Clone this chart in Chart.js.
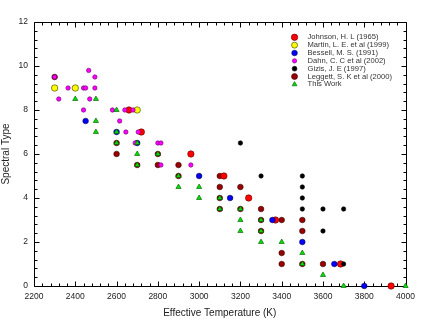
<!DOCTYPE html>
<html>
<head>
<meta charset="utf-8">
<script src="https://cdn.jsdelivr.net/npm/chart.js@4.4.1/dist/chart.umd.min.js"></script>
<style>
  html, body { margin: 0; padding: 0; background: #fff; }
  #wrap { width: 421px; height: 319px; }
</style>
</head>
<body>
<div id="wrap"><canvas id="c" width="421" height="319"></canvas></div>
<script>
// ---- Data (Teff [K], spectral type) ----
const johnson = [[2660,8],[2720,7],[2960,6],[3120,5],[3240,4],[3370,3],[3685,1],[3930,0]];
const martin  = [[2300,9],[2400,9],[2700,8]];
const bessell = [[2450,7.5],[2600,7],[2700,6.5],[3000,5],[3150,4],[3355,3],[3500,2],[3655,1],[3800,0]];
const dahn    = [[2300,9.5],[2465,9.8],[2495,9.5],[2365,9],[2440,9],[2450,9],[2495,9],[2320,8.5],[2470,8.5],
                 [2440,8],[2580,8],[2640,8],[2680,8],[2615,7.5],[2645,7],[2705,7],[2690,6.5],[2800,6.5],[2815,6.5],
                 [2815,5.5],[2960,5.5]];
const gizis   = [[3200,6.5],[3300,5],[3500,5],[3500,4.5],[3500,4],[3500,3.5],[3600,3.5],[3700,3.5],[3600,2.5],[3700,1]];
const leggett = [[2300,9.5],[2600,6.5],[2600,6],[2800,6],[2700,5.5],[2800,5.5],[2900,5.5],[2900,5],[3100,5],[3100,4.5],
                 [3200,4.5],[3100,4],[3100,3.5],[3200,3.5],[3300,3.5],[3300,3],[3400,3],[3500,3],[3300,2.5],[3500,2.5],
                 [3400,1.5],[3400,1],[3500,1],[3600,1]];
const thisWork = [[2400,8.5],[2500,8.5],[2600,8],[2500,7.5],[2500,7],[2600,7],[2700,6.5],[2600,6.5],[2700,6],[2800,6],
                  [2700,5.5],[2900,5],[2900,4.5],[3000,4.5],[3000,4],[3100,4],[3100,3.5],[3200,3.5],[3200,3],[3300,3],
                  [3200,2.5],[3300,2.5],[3300,2],[3400,2],[3500,1.5],[3500,1],[3600,0.5],[3700,0],[4000,0]];

const xTickLabels = [2200,2400,2600,2800,3000,3200,3400,3600,3800,4000];
const yTickLabels = [0,2,4,6,8,10,12];

const toPts = a => a.map(p => ({x: p[0], y: p[1]}));

const series = [
  {label:'Johnson, H. L (1965)',        data: johnson,  bg:'#ff0000', bc:'#550000', r:3.2, style:'circle',   order:3, lr:3.2},
  {label:'Martin, L. E. et al (1999)',  data: martin,   bg:'#ffff00', bc:'#333300', r:3.2, style:'circle',   order:5, lr:3.0},
  {label:'Bessell, M. S. (1991)',       data: bessell,  bg:'#0000ff', bc:'#000044', r:2.8, style:'circle',   order:2, lr:2.8},
  {label:'Dahn, C. C et al (2002)',     data: dahn,     bg:'#ff00ff', bc:'#660066', r:2.2, style:'circle',   order:1, lr:2.2},
  {label:'Gizis, J. E (1997)',          data: gizis,    bg:'#000000', bc:'#000000', r:2.2, style:'circle',   order:2, lr:2.4},
  {label:'Leggett, S. K et al (2000)',  data: leggett,  bg:'#990000', bc:'#330000', r:2.8, style:'circle',   order:6, lr:3.0},
  {label:'This Work',                   data: thisWork, bg:'#00e000', bc:'#005500', r:3.0, style:'triangle', order:0, lr:2.8}
];

const frameTicks = {
  id: 'frameTicks',
  afterDraw(chart) {
    const {ctx, chartArea: a, scales} = chart;
    const xs = scales.x, ys = scales.y;
    const L0 = Math.round(a.left) + 0.5, R0 = Math.round(a.right) + 0.5;
    const T0 = Math.round(a.top) + 0.5, B0 = Math.round(a.bottom) + 0.5;
    ctx.save();
    ctx.globalCompositeOperation = 'destination-over';
    ctx.strokeStyle = '#000';
    ctx.lineWidth = 1;
    ctx.beginPath();
    ctx.rect(L0, T0, R0 - L0, B0 - T0);
    const xv = [], yv = [];
    for (let v = xs.min; v <= xs.max + 1e-6; v += 40) xv.push(v);
    for (let k = 0; k <= 30; k++) yv.push(k * 0.4);
    xv.forEach(v => {
      const px = Math.round(xs.getPixelForValue(v)) + 0.5;
      const major = xTickLabels.includes(Math.round(v));
      const L = major ? 5 : 3;
      ctx.moveTo(px, B0); ctx.lineTo(px, B0 - L);
      ctx.moveTo(px, T0); ctx.lineTo(px, T0 + L);
    });
    yv.forEach(v => {
      const py = Math.round(ys.getPixelForValue(v)) + 0.5;
      const major = yTickLabels.some(t => Math.abs(t - v) < 1e-6);
      const L = major ? 5 : 3;
      ctx.moveTo(L0, py); ctx.lineTo(L0 + L, py);
      ctx.moveTo(R0, py); ctx.lineTo(R0 - L, py);
    });
    ctx.stroke();
    ctx.restore();
  }
};

const legendBox = {
  id: 'legendBox',
  afterDraw(chart) {
    const {ctx, chartArea: a} = chart;
    const mx = a.right - 111, tx = a.right - 98;
    let y = a.top + 15.3;
    ctx.save();
    ctx.font = '7.6px "Liberation Sans", Arial, sans-serif';
    ctx.textBaseline = 'middle';
    series.forEach(s => {
      ctx.beginPath();
      if (s.style === 'triangle') {
        const r = s.lr;
        ctx.moveTo(mx, y - r);
        ctx.lineTo(mx + r * 0.866, y + r * 0.5);
        ctx.lineTo(mx - r * 0.866, y + r * 0.5);
        ctx.closePath();
      } else {
        ctx.arc(mx, y, s.lr, 0, Math.PI * 2);
      }
      ctx.fillStyle = s.bg; ctx.fill();
      ctx.strokeStyle = s.bc; ctx.lineWidth = 0.6; ctx.stroke();
      ctx.fillStyle = '#333';
      ctx.fillText(s.label, tx, y);
      y += 7.85;
    });
    ctx.restore();
  }
};

new Chart(document.getElementById('c'), {
  type: 'scatter',
  data: {
    datasets: series.map(s => ({
      label: s.label,
      data: toPts(s.data),
      backgroundColor: s.bg,
      borderColor: s.bc,
      borderWidth: 0.6,
      pointRadius: s.r,
      pointHoverRadius: s.r,
      pointStyle: s.style,
      order: s.order,
      clip: false
    }))
  },
  options: {
    responsive: false,
    animation: false,
    devicePixelRatio: 1,
    layout: { padding: { top: 22, right: 13, left: 0, bottom: 0 } },
    plugins: { legend: { display: false }, tooltip: { enabled: false } },
    scales: {
      x: {
        type: 'linear', min: 2200, max: 4000,
        afterFit: s => { s.height = 33; },
        border: { display: false },
        grid: { display: false, drawTicks: false },
        ticks: {
          stepSize: 40, autoSkip: false, maxRotation: 0, padding: 6,
          color: '#222', font: { family: '"Liberation Sans", Arial, sans-serif', size: 8.5 },
          callback: v => xTickLabels.includes(Math.round(v)) ? String(Math.round(v)) : ''
        },
        title: { display: true, text: 'Effective Temperature (K)', color: '#222',
                 padding: { top: 0, bottom: 0 },
                 font: { family: '"Liberation Sans", Arial, sans-serif', size: 10 } }
      },
      y: {
        type: 'linear', min: 0, max: 12,
        afterFit: s => { s.width = 34; },
        border: { display: false },
        grid: { display: false, drawTicks: false },
        ticks: {
          stepSize: 0.4, autoSkip: false, padding: 6,
          color: '#222', font: { family: '"Liberation Sans", Arial, sans-serif', size: 8.5 },
          callback: v => { const m = yTickLabels.find(t => Math.abs(t - v) < 1e-6); return m === undefined ? '' : String(m); }
        },
        title: { display: true, text: 'Spectral Type', color: '#222',
                 padding: { top: 0, bottom: 0 },
                 font: { family: '"Liberation Sans", Arial, sans-serif', size: 10 } }
      }
    }
  },
  plugins: [frameTicks, legendBox]
});
</script>
</body>
</html>
